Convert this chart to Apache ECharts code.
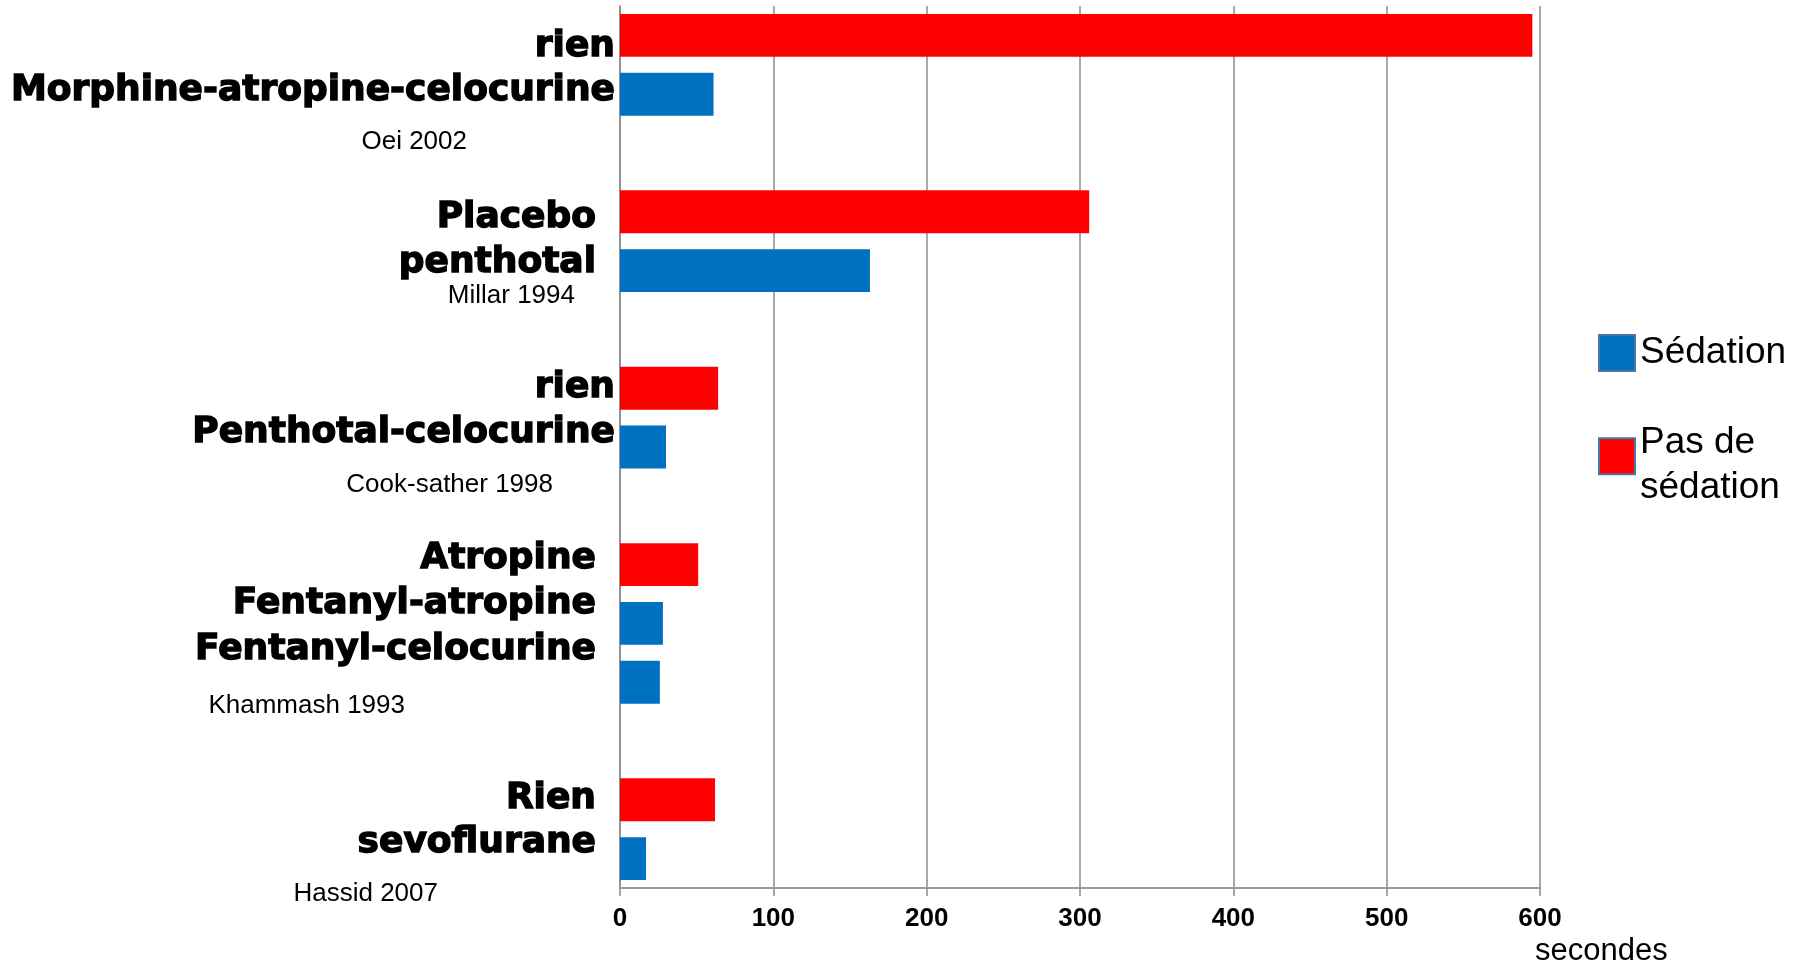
<!DOCTYPE html>
<html>
<head>
<meta charset="utf-8">
<script src="https://cdn.jsdelivr.net/npm/echarts@6/dist/echarts.min.js"></script>
<style>
  html, body { margin: 0; padding: 0; background: #ffffff; }
  #chart { width: 1801px; height: 963px; }
</style>
</head>
<body>
<div id="chart"></div>
<script>
// Drug / condition shown on each bar row (empty rows separate the studies)
const rowLabels = ['rien', 'Morphine-atropine-celocurine', '', 'Placebo', 'penthotal', '',
  'rien', 'Penthotal-celocurine', '', 'Atropine', 'Fentanyl-atropine', 'Fentanyl-celocurine', '',
  'Rien', 'sevoflurane'];
// Study references
const studies = ['Oei 2002', 'Millar 1994', 'Cook-sather 1998', 'Khammash 1993', 'Hassid 2007'];
// Durations in seconds for each row
const sedation   = [null, 61, null, null, 163, null, null, 30, null, null, 28, 26, null, null, 17];
const noSedation = [595, null, null, 306, null, null, 64, null, null, 51, null, null, null, 62, null];
const seriesNames = ['Sédation', 'Pas de sédation'];
const xName = 'secondes';
const xMin = 0, xMax = 600, xStep = 100;

// Label placement (style): vertical shift of each row label and right indent
const rowShift  = [11, -3.4, 0, 5.4, -8.4, 0, -0.4, -14.2, 0, -5.8, -19.6, -32.7, 0, -1.6, -15.8];
const rowIndent = [0, 0, 0, 19, 19, 0, 0, 0, 0, 19, 19, 19, 0, 19, 19];
const studyRow    = [2, 5, 8, 12, 14];
const studyShift  = [-11.5, -33.5, -20.6, -35.2, 35.6];
const studyIndent = [148, 40, 62, 210, 177];

const FONT = {
  drug:  { fontFamily: 'DejaVu Sans', fontWeight: 'bold', fontSize: 36, color: '#000000',
           textBorderColor: '#000000', textBorderWidth: 1.4 },
  study: { fontFamily: 'Liberation Sans', fontWeight: 'normal', fontSize: 26, color: '#000000' }
};

// Builds one rich-text label per row; padding moves each line to its place
function buildRowLabels() {
  const rich = {};
  const texts = rowLabels.map((label, k) => {
    const lines = [];
    if (label) lines.push({ text: label, kind: 'drug', dy: rowShift[k], pr: rowIndent[k] });
    studyRow.forEach((row, j) => {
      if (row === k) lines.push({ text: studies[j], kind: 'study', dy: studyShift[j], pr: studyIndent[j] });
    });
    if (!lines.length) return '';
    lines.sort((a, b) => a.dy - b.dy);
    lines.forEach(l => { l.h = FONT[l.kind].fontSize; });
    const first = lines[0], last = lines[lines.length - 1];
    const top = Math.min(first.dy - first.h / 2, -(last.dy + last.h / 2));
    return lines.map((l, i) => {
      const prev = lines[i - 1];
      const pt = i === 0 ? first.dy - first.h / 2 - top : (l.dy - l.h / 2) - (prev.dy + prev.h / 2);
      const pb = i === lines.length - 1 ? -top - last.dy - last.h / 2 : 0;
      const key = 'k' + k + 'l' + i;
      rich[key] = Object.assign({}, FONT[l.kind], { padding: [pt, l.pr, pb, 0] });
      return '{' + key + '|' + l.text + '}';
    }).join('\n');
  });
  return { texts, rich };
}

const rowText = buildRowLabels();
const chart = echarts.init(document.getElementById('chart'), null, { renderer: 'canvas' });

chart.setOption({
  animation: false,
  backgroundColor: '#ffffff',
  grid: { left: 620, right: 261, top: 6, bottom: 75, outerBoundsMode: 'none', containLabel: false },
  legend: {
    data: [seriesNames[0], seriesNames[1]],
    orient: 'vertical',
    left: 1598,
    top: 334,
    padding: 0,
    itemWidth: 36,
    itemHeight: 36,
    itemGap: 52,
    icon: 'rect',
    selectedMode: false,
    itemStyle: { borderColor: '#4a76a8', borderWidth: 2 },
    formatter: name => name === seriesNames[1]
      ? '{a|' + name.split(' ').slice(0, 2).join(' ') + '}\n{b|' + name.split(' ').slice(2).join(' ') + '}'
      : name,
    textStyle: {
      fontFamily: 'Liberation Sans', fontSize: 37, color: '#000000',
      rich: {
        a: { fontFamily: 'Liberation Sans', fontSize: 37, color: '#000000', padding: [18, 0, 0, 0] },
        b: { fontFamily: 'Liberation Sans', fontSize: 37, color: '#000000', padding: [8.5, 0, 0, 0] }
      }
    }
  },
  xAxis: {
    type: 'value',
    min: xMin,
    max: xMax,
    interval: xStep,
    name: xName,
    nameLocation: 'end',
    nameGap: -5,
    nameTextStyle: {
      fontFamily: 'Liberation Sans', fontSize: 31, color: '#000000',
      align: 'left', verticalAlign: 'top', padding: [48, 0, 0, 0]
    },
    axisLine: { show: true, lineStyle: { color: '#9c9c9c', width: 2 } },
    axisTick: { show: true, length: 8, lineStyle: { color: '#8c8c8c', width: 1.5 } },
    splitLine: { show: true, lineStyle: { color: '#8c8c8c', width: 1.5 } },
    axisLabel: {
      fontFamily: 'Liberation Sans', fontWeight: 'bold', fontSize: 26, color: '#000000', margin: 18
    }
  },
  yAxis: {
    type: 'category',
    inverse: true,
    data: rowLabels.map((_, i) => 'row' + i),
    axisLine: { show: true, lineStyle: { color: '#8c8c8c', width: 1.5 } },
    axisTick: { show: false },
    splitLine: { show: false },
    axisLabel: {
      interval: 0,
      margin: 5,
      fontFamily: 'Liberation Sans',
      fontSize: 26,
      color: '#000000',
      formatter: (value, index) => rowText.texts[index],
      rich: rowText.rich
    }
  },
  series: [
    {
      name: seriesNames[1],
      type: 'bar',
      stack: 'rows',
      data: noSedation,
      barCategoryGap: '27%',
      itemStyle: { color: '#ff0000' }
    },
    {
      name: seriesNames[0],
      type: 'bar',
      stack: 'rows',
      data: sedation,
      barCategoryGap: '27%',
      itemStyle: { color: '#0070c0' }
    }
  ]
});
</script>
</body>
</html>
